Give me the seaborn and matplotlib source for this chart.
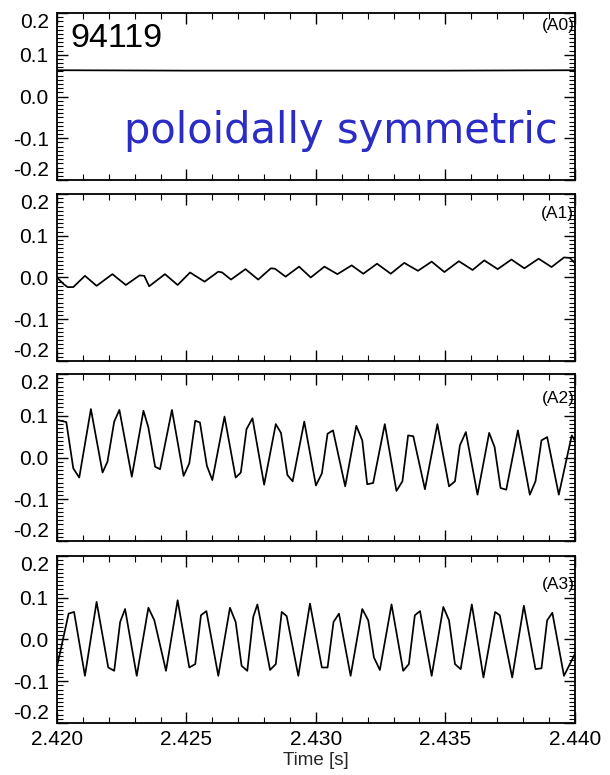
import matplotlib
matplotlib.use("Agg")
import matplotlib.pyplot as plt
import pandas as pd
import seaborn as sns
from matplotlib.ticker import MultipleLocator

# Shot and time window
shot_number = "94119"
t_start = 2.420
t_end = 2.440
x_ticks = [2.420, 2.425, 2.430, 2.435, 2.440]
x_tick_labels = ["2.420", "2.425", "2.430", "2.435", "2.440"]
y_ticks = [-0.2, -0.1, 0.0, 0.1, 0.2]
y_tick_labels = ["-0.2", "-0.1", "0.0", "0.1", "0.2"]
panel_names = ["(A0)", "(A1)", "(A2)", "(A3)"]

# Mode amplitudes; time given in ms after t_start
a0_ms = [0.00, 5.00, 10.00, 15.00, 20.00]
a0_val = [0.063, 0.062, 0.062, 0.062, 0.063]

a1_ms = [0.00, 0.26, 0.41, 0.63, 1.08, 1.53, 2.14, 2.66, 3.19, 3.37, 3.56, 4.17,
         4.66, 5.14, 5.70, 6.23, 6.38, 6.72, 7.28, 7.77, 8.26, 8.42, 8.83, 9.35,
         9.80, 10.33, 10.83, 11.38, 11.83, 12.36, 12.89, 13.41, 13.94, 14.47,
         14.96, 15.52, 16.05, 16.50, 17.02, 17.55, 18.05, 18.60, 19.10, 19.58,
         19.80, 20.00]
a1_val = [0.000, -0.016, -0.023, -0.023, 0.004, -0.020, 0.008, -0.018, 0.005,
          0.004, -0.021, 0.008, -0.018, 0.012, -0.010, 0.014, 0.012, -0.005,
          0.020, -0.005, 0.022, 0.021, 0.002, 0.026, 0.000, 0.026, 0.008, 0.029,
          0.009, 0.033, 0.009, 0.035, 0.016, 0.038, 0.013, 0.039, 0.018, 0.041,
          0.020, 0.043, 0.022, 0.045, 0.025, 0.048, 0.047, 0.035]

a2_ms = [0.00, 0.36, 0.63, 0.86, 1.31, 1.76, 1.95, 2.21, 2.41, 2.89, 3.34, 3.53,
         3.79, 3.98, 4.44, 4.89, 5.11, 5.34, 5.52, 5.79, 6.00, 6.47, 6.90, 7.10,
         7.32, 7.55, 8.00, 8.45, 8.65, 8.90, 9.10, 9.55, 10.00, 10.23, 10.45,
         10.66, 11.13, 11.56, 11.79, 11.98, 12.21, 12.66, 13.11, 13.34, 13.56,
         13.76, 14.21, 14.69, 15.14, 15.37, 15.56, 15.79, 16.24, 16.69, 16.90,
         17.13, 17.35, 17.80, 18.26, 18.48, 18.71, 18.93, 19.38, 19.88, 20.00]
a2_val = [0.090, 0.085, -0.026, -0.048, 0.116, -0.036, -0.010, 0.086, 0.114,
          -0.046, 0.112, 0.072, -0.022, -0.028, 0.114, -0.044, -0.014, 0.088,
          0.084, -0.020, -0.054, 0.098, -0.048, -0.036, 0.068, 0.094, -0.065,
          0.080, 0.059, -0.042, -0.057, 0.086, -0.067, -0.038, 0.057, 0.065,
          -0.069, 0.076, 0.041, -0.064, -0.061, 0.080, -0.080, -0.057, 0.053,
          0.051, -0.076, 0.080, -0.069, -0.057, 0.029, 0.061, -0.089, 0.059,
          0.025, -0.073, -0.077, 0.065, -0.089, -0.057, 0.041, 0.049, -0.089,
          0.053, 0.040]

a3_ms = [0.00, 0.45, 0.66, 1.08, 1.53, 1.98, 2.21, 2.44, 2.63, 3.08, 3.53, 3.76,
         4.21, 4.66, 5.11, 5.34, 5.56, 5.77, 6.23, 6.68, 6.90, 7.13, 7.35, 7.58,
         7.74, 8.23, 8.45, 8.68, 8.87, 9.32, 9.77, 10.23, 10.45, 10.68, 10.89,
         11.34, 11.79, 12.02, 12.24, 12.47, 12.92, 13.37, 13.59, 13.82, 14.02,
         14.47, 14.92, 15.14, 15.37, 15.59, 16.02, 16.47, 16.92, 17.10, 17.58,
         18.03, 18.48, 18.71, 18.93, 19.13, 19.58, 20.00]
a3_val = [-0.065, 0.062, 0.066, -0.087, 0.090, -0.067, -0.075, 0.042, 0.073,
          -0.087, 0.076, 0.046, -0.075, 0.094, -0.067, -0.059, 0.058, 0.068,
          -0.087, 0.076, 0.042, -0.063, -0.075, 0.054, 0.084, -0.073, -0.059,
          0.066, 0.056, -0.087, 0.086, -0.067, -0.067, 0.042, 0.062, -0.087,
          0.073, 0.046, -0.043, -0.073, 0.084, -0.075, -0.059, 0.058, 0.068,
          -0.087, 0.078, 0.046, -0.059, -0.071, 0.084, -0.091, 0.066, 0.058,
          -0.091, 0.081, -0.071, -0.069, 0.046, 0.064, -0.087, -0.035]

series = [(a0_ms, a0_val), (a1_ms, a1_val), (a2_ms, a2_val), (a3_ms, a3_val)]

sns.set_style("ticks")
plt.rcParams["font.family"] = ["Liberation Sans", "DejaVu Sans"]
plt.rcParams["axes.unicode_minus"] = False

fig = plt.figure(figsize=(6.1, 7.75), dpi=100)

# panel layout: [left, bottom, width, height] in figure fraction
left, width, height = 0.0934, 0.849, 0.2155
bottoms = [0.7677, 0.5342, 0.3019, 0.0671]
label_y = [0.928, 0.883, 0.853, 0.832]

axes = []
for i, (ms, val) in enumerate(series):
    ax = fig.add_axes([left, bottoms[i], width, height])
    df = pd.DataFrame({"time": [t_start + m / 1000.0 for m in ms], "amp": val})
    sns.lineplot(data=df, x="time", y="amp", ax=ax, color="black",
                 linewidth=1.25, estimator=None, sort=False)
    ax.set_xlim(t_start, t_end)
    ax.set_ylim(-0.2, 0.2)
    ax.set_xlabel("")
    ax.set_ylabel("")

    ax.set_xticks(x_ticks)
    ax.xaxis.set_minor_locator(MultipleLocator(0.001))
    ax.set_yticks(y_ticks, labels=y_tick_labels)
    ax.yaxis.set_minor_locator(MultipleLocator(0.01))
    if i == 3:
        ax.set_xticklabels(x_tick_labels)
    else:
        ax.set_xticklabels([])

    ax.tick_params(axis="both", which="both", direction="in",
                   top=True, right=True, colors="black")
    ax.tick_params(axis="both", which="major", length=8, width=1.0)
    ax.tick_params(axis="both", which="minor", length=4, width=0.8)
    ax.tick_params(axis="y", labelsize=15, pad=6)
    ax.tick_params(axis="x", labelsize=15, pad=5)
    for sp in ax.spines.values():
        sp.set_visible(True)
        sp.set_linewidth(1.3)
        sp.set_color("black")

    # outermost labels sit inside the frame
    for lbl in ax.get_yticklabels():
        if lbl.get_text() == "0.2":
            lbl.set_va("top")
        elif lbl.get_text() == "-0.2":
            lbl.set_va("bottom")

    ax.text(0.999, label_y[i], panel_names[i], transform=ax.transAxes,
            ha="right", va="center", fontsize=12.5, color="black")
    axes.append(ax)

axes[0].text(0.025, 0.94, shot_number, transform=axes[0].transAxes,
             ha="left", va="top", fontsize=24.5, color="black")
axes[0].text(0.129, 0.222, "poloidally symmetric", transform=axes[0].transAxes,
             ha="left", va="baseline", fontsize=30, color="#2b2bc6",
             family="DejaVu Sans")

axes[3].set_xlabel("Time [s]", fontsize=13.5, va="top")
axes[3].xaxis.set_label_coords(0.5, -0.175)

fig.savefig("out.png", dpi=100)
